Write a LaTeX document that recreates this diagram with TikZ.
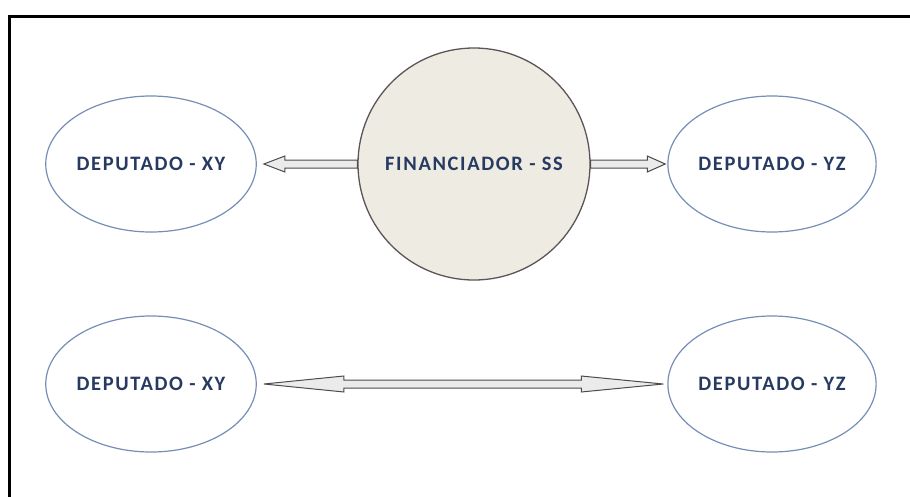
\documentclass[tikz,border=0pt]{standalone}
\usepackage{fontspec}
\setmainfont{Carlito}[LetterSpace=8]
\usepackage{tikz}
\usetikzlibrary{shapes,calc}
\definecolor{textblue}{RGB}{38,58,98}
\definecolor{ellblue}{RGB}{118,142,182}
\definecolor{circfill}{RGB}{238,236,226}
\definecolor{circline}{RGB}{92,84,88}
\tikzstyle{depnode} = [ellipse, draw=ellblue, line width=1.2pt, minimum width=208pt, minimum height=136pt, inner sep=0pt, text=textblue, font=\fontsize{20.5}{22}\selectfont\bfseries]
\tikzstyle{finnode} = [circle, draw=circline, line width=1.3pt, fill=circfill, minimum size=232pt, inner sep=0pt, text=textblue, font=\fontsize{20.5}{22}\selectfont\bfseries]
\tikzstyle{fatarrow} = [draw=black!70, fill=black!8, line width=1pt, line join=miter]
\tikzstyle{frame} = [line width=3pt, black]

\begin{document}
\begin{tikzpicture}[x=1pt, y=-1pt]

\useasboundingbox (0, 0) rectangle (910, 496);
\clip (0, 0) rectangle (910, 496);
\draw [frame] (9, 520) -- (9, 16) -- (930, 16);

% top row
\node [finnode] at (474, 164) (fin) {FINANCIADOR - SS};
\node [depnode] at (151, 164) (xyA) {DEPUTADO - XY};
\node [depnode] at (772, 164) (yzA) {DEPUTADO - YZ};

\draw [fatarrow] ([yshift=-4pt]fin.west) -- ([xshift=28pt, yshift=-4pt]xyA.east) -- ([xshift=28pt, yshift=-8pt]xyA.east) -- ([xshift=7pt]xyA.east) -- ([xshift=28pt, yshift=8pt]xyA.east) -- ([xshift=28pt, yshift=4pt]xyA.east) -- ([yshift=4pt]fin.west) -- cycle;
\draw [fatarrow] ([yshift=-4pt]fin.east) -- ([xshift=-20pt, yshift=-4pt]yzA.west) -- ([xshift=-20pt, yshift=-8pt]yzA.west) -- ([xshift=-2pt]yzA.west) -- ([xshift=-20pt, yshift=8pt]yzA.west) -- ([xshift=-20pt, yshift=4pt]yzA.west) -- ([yshift=4pt]fin.east) -- cycle;

% bottom row
\node [depnode] at (151, 384) (xyB) {DEPUTADO - XY};
\node [depnode] at (772, 384) (yzB) {DEPUTADO - YZ};

\draw [fatarrow] ([xshift=7pt]xyB.east) -- ([xshift=87pt, yshift=8pt]xyB.east) -- ([xshift=87pt, yshift=4pt]xyB.east) -- ([xshift=-86pt, yshift=4pt]yzB.west) -- ([xshift=-86pt, yshift=8pt]yzB.west) -- ([xshift=-4pt]yzB.west) -- ([xshift=-86pt, yshift=-8pt]yzB.west) -- ([xshift=-86pt, yshift=-4pt]yzB.west) -- ([xshift=87pt, yshift=-4pt]xyB.east) -- ([xshift=87pt, yshift=-8pt]xyB.east) -- cycle;

\end{tikzpicture}
\end{document}
